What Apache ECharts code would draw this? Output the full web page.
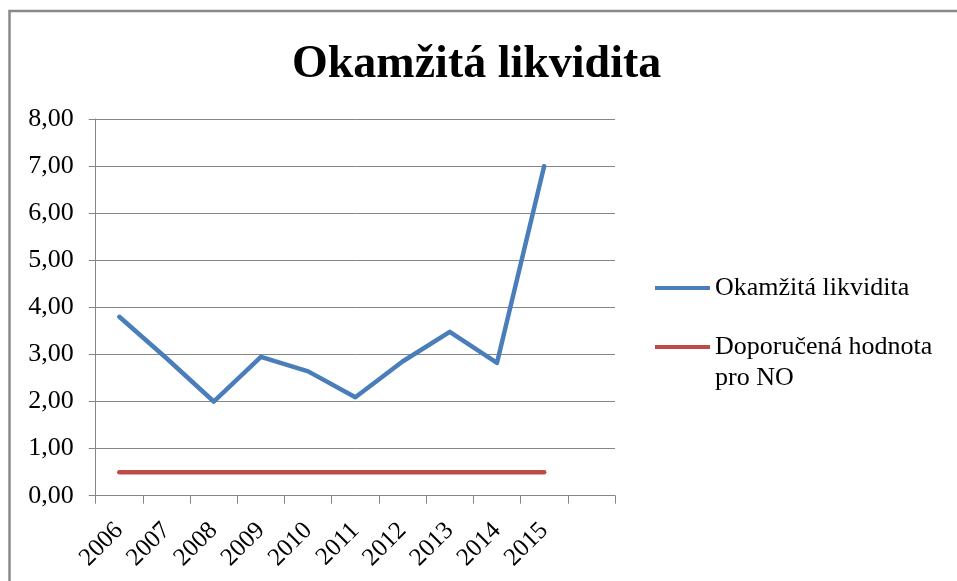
<!DOCTYPE html>
<html>
<head>
<meta charset="utf-8">
<script src="https://cdn.jsdelivr.net/npm/echarts@6/dist/echarts.min.js"></script>
<style>
  html, body { margin: 0; padding: 0; background: #fff; }
  #chart { width: 957px; height: 581px; }
</style>
</head>
<body>
<div id="chart"></div>
<script>
const title = 'Okamžitá likvidita';
const categories = ['2006', '2007', '2008', '2009', '2010', '2011', '2012', '2013', '2014', '2015', ''];
const seriesNames = ['Okamžitá likvidita', 'Doporučená hodnota pro NO'];
const likvidita = [3.80, 2.92, 2.00, 2.95, 2.64, 2.09, 2.85, 3.48, 2.82, 7.00];
const doporucena = [0.50, 0.50, 0.50, 0.50, 0.50, 0.50, 0.50, 0.50, 0.50, 0.50];
const yTicks = [0, 1, 2, 3, 4, 5, 6, 7, 8];

const FONT = '"Liberation Serif", "Times New Roman", serif';
const GRAY = '#868686';

const chart = echarts.init(document.getElementById('chart'), null, { renderer: 'canvas' });
chart.setOption({
  animation: false,
  backgroundColor: '#ffffff',
  title: {
    text: title,
    left: 292,
    top: 42,
    padding: 0,
    textStyle: { fontFamily: FONT, fontSize: 46, fontWeight: 'bold', color: '#000' }
  },
  graphic: [{
    type: 'polyline',
    silent: true,
    shape: { points: [[9.5, 600], [9.5, 11], [970, 11]] },
    style: { stroke: '#898989', lineWidth: 2.5, fill: null }
  }],
  legend: [{
    data: [seriesNames[0]],
    left: 655,
    top: 272.5,
    padding: 0,
    icon: 'rect',
    itemWidth: 55,
    itemHeight: 4,
    textStyle: { fontFamily: FONT, fontSize: 26, color: '#000', lineHeight: 31 }
  }, {
    data: [seriesNames[1]],
    left: 655,
    top: 300.5,
    padding: 0,
    icon: 'rect',
    itemWidth: 55,
    itemHeight: 4,
    formatter: function (name) { return '\n' + name.replace(' pro NO', '\npro NO'); },
    textStyle: { fontFamily: FONT, fontSize: 26, color: '#000', lineHeight: 31 }
  }],
  grid: { left: 95.7, right: 342, top: 119, bottom: 85.3, containLabel: false },
  xAxis: {
    type: 'category',
    data: categories,
    boundaryGap: true,
    axisLine: { show: true, lineStyle: { color: GRAY, width: 1 } },
    axisTick: { show: true, length: 8, lineStyle: { color: GRAY, width: 1 } },
    splitLine: { show: false },
    axisLabel: {
      rotate: 45,
      margin: 31,
      interval: 0,
      fontFamily: FONT, fontSize: 25, color: '#000'
    }
  },
  yAxis: {
    type: 'value',
    min: yTicks[0],
    max: yTicks[yTicks.length - 1],
    interval: 1,
    axisLine: { show: true, lineStyle: { color: GRAY, width: 1 } },
    axisTick: { show: true, length: 7, lineStyle: { color: GRAY, width: 1 } },
    splitLine: { show: true, lineStyle: { color: GRAY, width: 1 } },
    axisLabel: {
      margin: 22,
      fontFamily: FONT, fontSize: 26, color: '#000',
      formatter: function (v) { return v.toFixed(2).replace('.', ','); }
    }
  },
  series: [{
    name: seriesNames[0],
    type: 'line',
    data: likvidita,
    symbol: 'none',
    color: '#4A7EBB',
    lineStyle: { color: '#4A7EBB', width: 4.5, cap: 'round', join: 'round' }
  }, {
    name: seriesNames[1],
    type: 'line',
    data: doporucena,
    symbol: 'none',
    color: '#BE4B48',
    lineStyle: { color: '#BE4B48', width: 4.5, cap: 'round', join: 'round' }
  }]
});
</script>
</body>
</html>
